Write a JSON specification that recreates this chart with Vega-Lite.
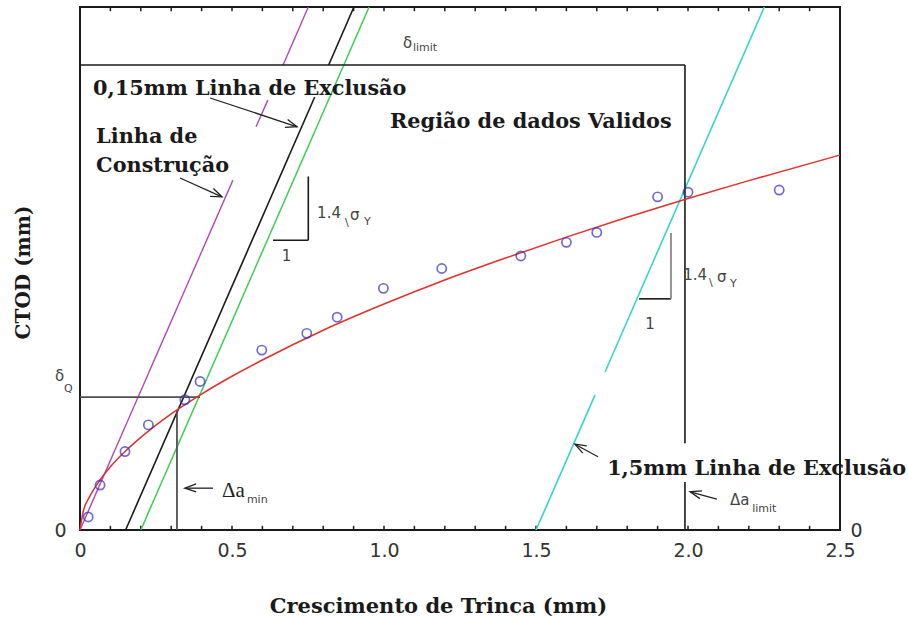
{
  "$schema": "https://vega.github.io/schema/vega-lite/v6.json",
  "width": 760,
  "height": 523,
  "autosize": {"type": "none"},
  "padding": {"left": 80, "top": 7, "right": 68, "bottom": 93},
  "background": "white",
  "config": {"view": {"stroke": "#1a1a1a", "strokeWidth": 2}},
  "datasets": {
    "segments": [
      {"part": "construcao", "x": 0, "y": 0, "x2": 0.503, "y2": 0.669},
      {"part": "construcao", "x": 0.579, "y": 0.771, "x2": 0.618, "y2": 0.822},
      {"part": "construcao", "x": 0.668, "y": 0.889, "x2": 0.751, "y2": 1.0},
      {"part": "excl015", "x": 0.15, "y": 0, "x2": 0.772, "y2": 0.828},
      {"part": "excl015", "x": 0.818, "y": 0.889, "x2": 0.901, "y2": 1.0},
      {"part": "offset02", "x": 0.2, "y": 0, "x2": 0.951, "y2": 1.0},
      {"part": "excl15", "x": 1.5, "y": 0, "x2": 1.694, "y2": 0.258},
      {"part": "excl15", "x": 1.727, "y": 0.302, "x2": 2.251, "y2": 1.0},
      {"part": "limite", "x": 0, "y": 0.889, "x2": 1.99, "y2": 0.889},
      {"part": "limite", "x": 1.99, "y": 0.166, "x2": 1.99, "y2": 0.889},
      {"part": "limite", "x": 1.99, "y": 0, "x2": 1.99, "y2": 0.092},
      {"part": "tri", "x": 0.751, "y": 0.554, "x2": 0.751, "y2": 0.676},
      {"part": "tri", "x": 0.635, "y": 0.554, "x2": 0.751, "y2": 0.554},
      {"part": "tri", "x": 1.839, "y": 0.442, "x2": 1.944, "y2": 0.442},
      {"part": "trigray", "x": 1.944, "y": 0.442, "x2": 1.944, "y2": 0.568},
      {"part": "delta", "x": 0, "y": 0.254, "x2": 0.395, "y2": 0.254},
      {"part": "delta", "x": 0.319, "y": 0, "x2": 0.319, "y2": 0.229}
    ],
    "marcas": [
      {"x": 0.1, "y": 0, "y2": 0.008}, {"x": 0.2, "y": 0, "y2": 0.008}, {"x": 0.3, "y": 0, "y2": 0.008},
      {"x": 0.4, "y": 0, "y2": 0.008}, {"x": 0.5, "y": 0, "y2": 0.008}, {"x": 0.6, "y": 0, "y2": 0.008},
      {"x": 0.7, "y": 0, "y2": 0.008}, {"x": 0.8, "y": 0, "y2": 0.008}, {"x": 0.9, "y": 0, "y2": 0.008},
      {"x": 1.0, "y": 0, "y2": 0.008}, {"x": 1.1, "y": 0, "y2": 0.008}, {"x": 1.2, "y": 0, "y2": 0.008},
      {"x": 1.3, "y": 0, "y2": 0.008}, {"x": 1.4, "y": 0, "y2": 0.008}, {"x": 1.5, "y": 0, "y2": 0.008},
      {"x": 1.6, "y": 0, "y2": 0.008}, {"x": 1.7, "y": 0, "y2": 0.008}, {"x": 1.8, "y": 0, "y2": 0.008},
      {"x": 1.9, "y": 0, "y2": 0.008}, {"x": 2.0, "y": 0, "y2": 0.008}, {"x": 2.1, "y": 0, "y2": 0.008},
      {"x": 2.2, "y": 0, "y2": 0.008}, {"x": 2.3, "y": 0, "y2": 0.008}, {"x": 2.4, "y": 0, "y2": 0.008},
      {"x": 0.1, "y": 1, "y2": 0.992}, {"x": 0.2, "y": 1, "y2": 0.992}, {"x": 0.3, "y": 1, "y2": 0.992},
      {"x": 0.4, "y": 1, "y2": 0.992}, {"x": 0.5, "y": 1, "y2": 0.992}, {"x": 0.6, "y": 1, "y2": 0.992},
      {"x": 0.7, "y": 1, "y2": 0.992}, {"x": 0.8, "y": 1, "y2": 0.992}, {"x": 0.9, "y": 1, "y2": 0.992},
      {"x": 1.0, "y": 1, "y2": 0.992}, {"x": 1.1, "y": 1, "y2": 0.992}, {"x": 1.2, "y": 1, "y2": 0.992},
      {"x": 1.3, "y": 1, "y2": 0.992}, {"x": 1.4, "y": 1, "y2": 0.992}, {"x": 1.5, "y": 1, "y2": 0.992},
      {"x": 1.6, "y": 1, "y2": 0.992}, {"x": 1.7, "y": 1, "y2": 0.992}, {"x": 1.8, "y": 1, "y2": 0.992},
      {"x": 1.9, "y": 1, "y2": 0.992}, {"x": 2.0, "y": 1, "y2": 0.992}, {"x": 2.1, "y": 1, "y2": 0.992},
      {"x": 2.2, "y": 1, "y2": 0.992}, {"x": 2.3, "y": 1, "y2": 0.992}, {"x": 2.4, "y": 1, "y2": 0.992}
    ],
    "curve": [
      {"x": 0, "y": 0},
      {"x": 0.01, "y": 0.034},
      {"x": 0.03, "y": 0.062},
      {"x": 0.05, "y": 0.082},
      {"x": 0.1, "y": 0.121},
      {"x": 0.15, "y": 0.151},
      {"x": 0.2, "y": 0.177},
      {"x": 0.3, "y": 0.222},
      {"x": 0.4, "y": 0.26},
      {"x": 0.5, "y": 0.294},
      {"x": 0.6, "y": 0.325},
      {"x": 0.8, "y": 0.382},
      {"x": 1.0, "y": 0.432},
      {"x": 1.2, "y": 0.478},
      {"x": 1.4, "y": 0.52},
      {"x": 1.6, "y": 0.56},
      {"x": 1.8, "y": 0.598},
      {"x": 2.0, "y": 0.634},
      {"x": 2.2, "y": 0.668},
      {"x": 2.5, "y": 0.717}
    ],
    "medidas": [
      {"x": 0.027, "y": 0.025},
      {"x": 0.066, "y": 0.086},
      {"x": 0.148, "y": 0.15},
      {"x": 0.225, "y": 0.201},
      {"x": 0.345, "y": 0.249},
      {"x": 0.395, "y": 0.284},
      {"x": 0.598, "y": 0.344},
      {"x": 0.746, "y": 0.376},
      {"x": 0.846, "y": 0.407},
      {"x": 0.998, "y": 0.462},
      {"x": 1.19, "y": 0.5},
      {"x": 1.45, "y": 0.524},
      {"x": 1.6, "y": 0.55},
      {"x": 1.7, "y": 0.569},
      {"x": 1.9, "y": 0.637},
      {"x": 2.0, "y": 0.646},
      {"x": 2.3, "y": 0.65}
    ],
    "setas": [
      {"arrow": "a1s", "i": 0, "x": 0.428, "y": 0.826},
      {"arrow": "a1s", "i": 1, "x": 0.714, "y": 0.771},
      {"arrow": "a1h", "i": 0, "x": 0.683, "y": 0.785},
      {"arrow": "a1h", "i": 1, "x": 0.714, "y": 0.771},
      {"arrow": "a1h", "i": 2, "x": 0.674, "y": 0.77},
      {"arrow": "a2s", "i": 0, "x": 0.329, "y": 0.673},
      {"arrow": "a2s", "i": 1, "x": 0.467, "y": 0.637},
      {"arrow": "a2h", "i": 0, "x": 0.439, "y": 0.653},
      {"arrow": "a2h", "i": 1, "x": 0.467, "y": 0.637},
      {"arrow": "a2h", "i": 2, "x": 0.428, "y": 0.638},
      {"arrow": "a3s", "i": 0, "x": 0.4375, "y": 0.08},
      {"arrow": "a3s", "i": 1, "x": 0.345, "y": 0.08},
      {"arrow": "a3h", "i": 0, "x": 0.382, "y": 0.088},
      {"arrow": "a3h", "i": 1, "x": 0.345, "y": 0.08},
      {"arrow": "a3h", "i": 2, "x": 0.382, "y": 0.073},
      {"arrow": "a4s", "i": 0, "x": 1.704, "y": 0.14},
      {"arrow": "a4s", "i": 1, "x": 1.628, "y": 0.164},
      {"arrow": "a4h", "i": 0, "x": 1.654, "y": 0.147},
      {"arrow": "a4h", "i": 1, "x": 1.628, "y": 0.164},
      {"arrow": "a4h", "i": 2, "x": 1.667, "y": 0.161},
      {"arrow": "a5s", "i": 0, "x": 2.095, "y": 0.059},
      {"arrow": "a5s", "i": 1, "x": 2.007, "y": 0.073},
      {"arrow": "a5h", "i": 0, "x": 2.039, "y": 0.06},
      {"arrow": "a5h", "i": 1, "x": 2.007, "y": 0.073},
      {"arrow": "a5h", "i": 2, "x": 2.046, "y": 0.075}
    ],
    "rotulos": [
      {"x": 0.043, "y": 0.832, "label": "0,15mm Linha de Exclusão"},
      {"x": 0.053, "y": 0.74, "label": "Linha de"},
      {"x": 0.053, "y": 0.685, "label": "Construção"},
      {"x": 1.02, "y": 0.769, "label": "Região de dados Validos"},
      {"x": 1.734, "y": 0.105, "label": "1,5mm Linha de Exclusão"}
    ],
    "simbolos": [
      {"x": 0.78, "y": 0.597, "label": "1.4"},
      {"x": 0.888, "y": 0.593, "label": "σ"},
      {"x": 1.984, "y": 0.478, "label": "1.4"},
      {"x": 2.095, "y": 0.474, "label": "σ"},
      {"x": 0.664, "y": 0.514, "label": "1"},
      {"x": 1.859, "y": 0.384, "label": "1"},
      {"x": 1.0625, "y": 0.922, "label": "δ"},
      {"x": -0.082, "y": 0.285, "label": "δ"},
      {"x": 2.138, "y": 0.048, "label": "Δa"}
    ],
    "indices": [
      {"x": 0.872, "y": 0.581, "label": "\\"},
      {"x": 0.934, "y": 0.583, "label": "Y"},
      {"x": 2.069, "y": 0.4665, "label": "\\"},
      {"x": 2.138, "y": 0.4646, "label": "Y"},
      {"x": 1.095, "y": 0.916, "label": "limit"},
      {"x": -0.0526, "y": 0.264, "label": "Q"},
      {"x": 0.549, "y": 0.0516, "label": "min"},
      {"x": 2.211, "y": 0.0344, "label": "limit"}
    ],
    "deltaMin": [
      {"x": 0.467, "y": 0.063, "label": "Δa"}
    ]
  },
  "encoding": {
    "x": {"field": "x", "type": "quantitative", "scale": {"domain": [0, 2.5], "nice": false, "zero": false}, "axis": null},
    "y": {"field": "y", "type": "quantitative", "scale": {"domain": [0, 1], "nice": false, "zero": false}, "axis": null}
  },
  "resolve": {"axis": {"x": "independent", "y": "independent"}},
  "layer": [
    {
      "data": {"name": "marcas"},
      "mark": {"type": "rule", "color": "#1a1a1a", "strokeWidth": 1.5},
      "encoding": {"y2": {"field": "y2"}}
    },
    {
      "data": {"name": "segments"},
      "transform": [{"filter": "datum.part == 'construcao'"}],
      "mark": {"type": "rule", "color": "#b048b8", "strokeWidth": 1.4},
      "encoding": {"x2": {"field": "x2"}, "y2": {"field": "y2"}}
    },
    {
      "data": {"name": "segments"},
      "transform": [{"filter": "datum.part == 'excl015'"}],
      "mark": {"type": "rule", "color": "#1a1a1a", "strokeWidth": 1.6},
      "encoding": {"x2": {"field": "x2"}, "y2": {"field": "y2"}}
    },
    {
      "data": {"name": "segments"},
      "transform": [{"filter": "datum.part == 'offset02'"}],
      "mark": {"type": "rule", "color": "#3ccf52", "strokeWidth": 1.5},
      "encoding": {"x2": {"field": "x2"}, "y2": {"field": "y2"}}
    },
    {
      "data": {"name": "segments"},
      "transform": [{"filter": "datum.part == 'excl15'"}],
      "mark": {"type": "rule", "color": "#38d4d0", "strokeWidth": 1.6},
      "encoding": {"x2": {"field": "x2"}, "y2": {"field": "y2"}}
    },
    {
      "data": {"name": "segments"},
      "transform": [{"filter": "datum.part == 'limite' || datum.part == 'tri'"}],
      "mark": {"type": "rule", "color": "#1a1a1a", "strokeWidth": 1.6},
      "encoding": {"x2": {"field": "x2"}, "y2": {"field": "y2"}}
    },
    {
      "data": {"name": "segments"},
      "transform": [{"filter": "datum.part == 'trigray'"}],
      "mark": {"type": "rule", "color": "#8a8a8a", "strokeWidth": 1.8},
      "encoding": {"x2": {"field": "x2"}, "y2": {"field": "y2"}}
    },
    {
      "data": {"name": "segments"},
      "transform": [{"filter": "datum.part == 'delta'"}],
      "mark": {"type": "rule", "color": "#505050", "strokeWidth": 1.8},
      "encoding": {"x2": {"field": "x2"}, "y2": {"field": "y2"}}
    },
    {
      "data": {"name": "curve"},
      "mark": {"type": "line", "color": "#e2302a", "strokeWidth": 1.5, "interpolate": "monotone"},
      "encoding": {
        "x": {"field": "x", "type": "quantitative", "scale": {"domain": [0, 2.5], "nice": false, "zero": false},
          "axis": {"orient": "bottom", "values": [0, 0.5, 1, 1.5, 2, 2.5],
            "labelExpr": "datum.value == 0 ? '0' : format(datum.value, '.1f')",
            "ticks": false, "domain": false, "grid": false, "labelFlush": false, "labelOverlap": false,
            "labelFont": "DejaVu Sans", "labelFontSize": 19, "labelColor": "#333", "labelPadding": 11,
            "title": "Crescimento de Trinca (mm)", "titleFont": "DejaVu Serif", "titleFontWeight": "bold",
            "titleFontSize": 21, "titleColor": "#1a1a1a", "titleX": 358, "titleY": 76,
            "titleAlign": "center", "titleBaseline": "middle"}},
        "y": {"field": "y", "type": "quantitative", "scale": {"domain": [0, 1], "nice": false, "zero": false},
          "axis": {"orient": "left", "values": [0], "ticks": false, "domain": false, "grid": false,
            "labelFont": "DejaVu Sans", "labelFontSize": 19, "labelColor": "#333", "labelPadding": 14,
            "labelBaseline": "middle", "labelFlush": false,
            "title": "CTOD (mm)", "titleFont": "DejaVu Serif", "titleFontWeight": "bold", "titleFontSize": 20,
            "titleColor": "#1a1a1a", "titleX": -57, "titleY": 265, "titleAngle": -90,
            "titleAlign": "center", "titleBaseline": "middle"}}
      }
    },
    {
      "data": {"name": "medidas"},
      "mark": {"type": "point", "shape": "circle", "filled": false, "color": "#2f2fc8", "size": 85, "strokeWidth": 1.7},
      "encoding": {
        "y": {"field": "y", "type": "quantitative", "scale": {"domain": [0, 1], "nice": false, "zero": false},
          "axis": {"orient": "right", "values": [0], "ticks": false, "domain": false, "grid": false,
            "labelFont": "DejaVu Sans", "labelFontSize": 19, "labelColor": "#333", "labelPadding": 10,
            "labelBaseline": "middle", "labelFlush": false, "title": null}}
      }
    },
    {
      "data": {"name": "setas"},
      "mark": {"type": "line", "color": "#222", "strokeWidth": 1.3},
      "encoding": {"detail": {"field": "arrow"}, "order": {"field": "i", "type": "quantitative"}}
    },
    {
      "data": {"name": "rotulos"},
      "mark": {"type": "text", "align": "left", "baseline": "alphabetic", "font": "DejaVu Serif", "fontWeight": "bold", "fontSize": 20.8, "color": "#1a1a1a"},
      "encoding": {"text": {"field": "label"}}
    },
    {
      "data": {"name": "simbolos"},
      "mark": {"type": "text", "align": "left", "baseline": "alphabetic", "font": "DejaVu Sans", "fontSize": 15, "color": "#444"},
      "encoding": {"text": {"field": "label"}}
    },
    {
      "data": {"name": "indices"},
      "mark": {"type": "text", "align": "left", "baseline": "alphabetic", "font": "DejaVu Sans", "fontSize": 11, "color": "#444"},
      "encoding": {"text": {"field": "label"}}
    },
    {
      "data": {"name": "deltaMin"},
      "mark": {"type": "text", "align": "left", "baseline": "alphabetic", "font": "Liberation Serif", "fontSize": 21, "color": "#222"},
      "encoding": {"text": {"field": "label"}}
    }
  ]
}
